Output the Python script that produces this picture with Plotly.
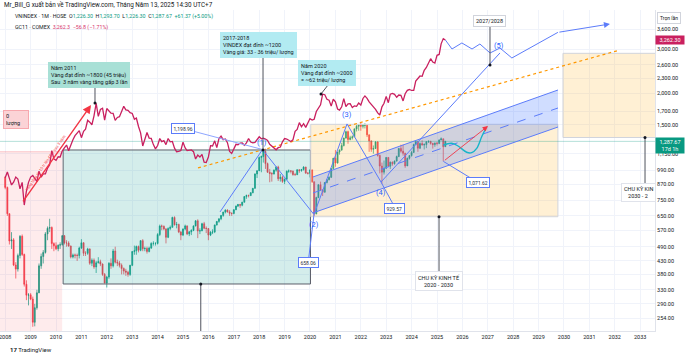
import math
import datetime as dt
import pandas as pd
import plotly.graph_objects as go

# ---------------- DATA ----------------
# VNINDEX monthly candles, Jan 2008 .. May 2025
vn_open = [
    927, 844, 663, 516, 522, 414, 399, 452, 539, 456, 347, 314,
    315, 303, 245, 280, 321, 411, 448, 465, 551, 580, 584, 504,
    494, 481, 497, 499, 542, 507, 507, 493, 446, 454, 453, 452,
    484, 508, 461, 461, 480, 421, 433, 407, 423, 427, 418, 380,
    351, 371, 421, 411, 471, 425, 422, 413, 401, 392, 388, 380,
    413, 469, 472, 491, 474, 518, 481, 482, 469, 484, 505, 505,
    505, 548, 592, 591, 577, 534, 579, 585, 641, 599, 601, 561,
    545, 576, 593, 551, 562, 569, 593, 621, 566, 567, 605, 580,
    579, 545, 560, 561, 598, 618, 633, 653, 673, 686, 674, 666,
    665, 688, 711, 722, 717, 737, 776, 784, 783, 804, 837, 955,
    984, 1110, 1121, 1174, 1050, 970, 960, 955, 989, 1017, 914, 926,
    892, 910, 980, 981, 980, 949, 949, 993, 985, 995, 1017, 963,
    961, 991, 889, 662, 769, 865, 824, 808, 883, 906, 926, 1004,
    1104, 1056, 1168, 1191, 1239, 1328, 1408, 1310, 1331, 1342, 1444, 1478,
    1498, 1478, 1490, 1492, 1367, 1293, 1197, 1206, 1280, 1132, 1027, 971,
    1007, 1111, 1026, 1064, 1049, 1075, 1120, 1207, 1177, 1154, 1028, 1102,
    1130, 1164, 1252, 1284, 1210, 1262, 1245, 1251, 1283, 1287, 1264, 1250,
    1267, 1264, 1305, 1318, 1226.3,
]
vn_high = [
    935, 850, 665, 560, 530, 425, 460, 545, 548, 460, 360, 320,
    320, 310, 290, 330, 420, 460, 475, 560, 590, 633, 590, 510,
    510, 500, 510, 545, 545, 520, 515, 495, 460, 460, 460, 490,
    525, 510, 470, 485, 482, 440, 440, 430, 445, 435, 420, 385,
    375, 425, 440, 480, 490, 435, 430, 420, 405, 400, 393, 415,
    470, 495, 495, 495, 520, 525, 490, 490, 490, 510, 515, 510,
    555, 600, 600, 595, 580, 585, 595, 645, 647, 615, 605, 565,
    580, 600, 595, 565, 575, 595, 625, 630, 580, 610, 615, 590,
    580, 565, 575, 600, 620, 635, 655, 675, 690, 690, 685, 670,
    690, 715, 725, 725, 740, 780, 790, 790, 808, 840, 960, 985,
    1120, 1130, 1180, 1204, 1060, 1000, 970, 995, 1025, 1030, 955, 940,
    915, 985, 995, 990, 985, 965, 995, 995, 1000, 1025, 1020, 970,
    995, 995, 890, 775, 870, 890, 830, 885, 910, 935, 1005, 1105,
    1190, 1170, 1195, 1270, 1330, 1420, 1420, 1355, 1360, 1450, 1500, 1500,
    1536, 1510, 1520, 1500, 1370, 1300, 1240, 1290, 1290, 1140, 1060, 1080,
    1115, 1115, 1070, 1070, 1080, 1130, 1210, 1250, 1250, 1160, 1110, 1135,
    1180, 1260, 1290, 1290, 1275, 1300, 1265, 1290, 1300, 1295, 1270, 1275,
    1280, 1310, 1335, 1320, 1293.7,
]
vn_low = [
    830, 650, 500, 480, 410, 366, 390, 440, 450, 340, 300, 286,
    300, 235, 236, 275, 320, 400, 420, 460, 520, 560, 480, 470,
    475, 470, 480, 495, 500, 490, 490, 440, 440, 440, 430, 440,
    480, 450, 450, 455, 415, 410, 400, 385, 420, 410, 375, 350,
    337, 365, 400, 405, 420, 410, 405, 380, 380, 375, 372, 375,
    410, 455, 455, 465, 470, 470, 470, 460, 465, 480, 495, 495,
    500, 540, 570, 570, 505, 530, 570, 585, 595, 580, 555, 520,
    540, 570, 545, 540, 545, 565, 590, 530, 550, 565, 575, 555,
    520, 540, 550, 555, 595, 610, 625, 645, 665, 670, 650, 650,
    660, 685, 705, 700, 710, 735, 760, 770, 780, 800, 835, 920,
    980, 970, 1060, 1000, 965, 885, 890, 950, 975, 895, 890, 880,
    870, 905, 965, 960, 940, 940, 945, 965, 975, 985, 955, 950,
    925, 880, 650, 660, 765, 820, 780, 805, 875, 900, 920, 1000,
    1020, 1050, 1140, 1180, 1230, 1320, 1260, 1300, 1310, 1340, 1410, 1420,
    1420, 1450, 1450, 1340, 1170, 1170, 1150, 1200, 1120, 960, 873, 950,
    1000, 1020, 1000, 1030, 1040, 1070, 1115, 1160, 1130, 1010, 1030, 1090,
    1120, 1160, 1240, 1170, 1200, 1240, 1195, 1210, 1270, 1250, 1205, 1225,
    1240, 1255, 1300, 1073, 1226.3,
]
vn_close = [
    844, 663, 516, 522, 414, 399, 452, 539, 456, 347, 314, 315,
    303, 245, 280, 321, 411, 448, 465, 551, 580, 584, 504, 494,
    481, 497, 499, 542, 507, 507, 493, 446, 454, 453, 452, 484,
    508, 461, 461, 480, 421, 433, 407, 423, 427, 418, 380, 351,
    371, 421, 411, 471, 425, 422, 413, 401, 392, 388, 380, 413,
    469, 472, 491, 474, 518, 481, 482, 469, 484, 505, 505, 505,
    548, 592, 591, 577, 534, 579, 585, 641, 599, 601, 561, 545,
    576, 593, 551, 562, 569, 593, 621, 566, 567, 605, 580, 579,
    545, 560, 561, 598, 618, 633, 653, 673, 686, 674, 666, 665,
    688, 711, 722, 717, 737, 776, 784, 783, 804, 837, 955, 984,
    1110, 1121, 1174, 1050, 970, 960, 955, 989, 1017, 914, 926, 892,
    910, 980, 981, 980, 949, 949, 993, 985, 995, 1017, 963, 961,
    991, 889, 662, 769, 865, 824, 808, 883, 906, 926, 1004, 1104,
    1056, 1168, 1191, 1239, 1328, 1408, 1310, 1331, 1342, 1444, 1478, 1498,
    1478, 1490, 1492, 1367, 1293, 1197, 1206, 1280, 1132, 1027, 971, 1007,
    1111, 1026, 1064, 1049, 1075, 1120, 1207, 1177, 1154, 1028, 1102, 1130,
    1164, 1252, 1284, 1210, 1262, 1245, 1251, 1283, 1287, 1264, 1250, 1267,
    1264, 1305, 1318, 1226, 1287.67,
]
vn_dates = pd.date_range("2008-01-01", periods=len(vn_close), freq="MS")

# GC1! (COMEX gold) monthly closes, Jan 2008 .. May 2025
gold_close = [
    923, 972, 917, 863, 886, 928, 912, 833, 884, 718, 816, 884,
    928, 942, 916, 891, 979, 927, 955, 955, 1008, 1040, 1182, 1096,
    1083, 1118, 1115, 1180, 1213, 1245, 1181, 1248, 1307, 1357, 1387, 1421,
    1332, 1411, 1439, 1563, 1536, 1500, 1628, 1825, 1620, 1725, 1746, 1566,
    1740, 1710, 1669, 1664, 1561, 1604, 1615, 1692, 1776, 1719, 1713, 1675,
    1663, 1578, 1595, 1476, 1392, 1234, 1313, 1396, 1327, 1323, 1250, 1202,
    1240, 1322, 1284, 1296, 1250, 1322, 1282, 1287, 1210, 1171, 1175, 1184,
    1279, 1212, 1183, 1184, 1191, 1172, 1095, 1135, 1115, 1142, 1065, 1061,
    1116, 1238, 1234, 1294, 1216, 1322, 1351, 1308, 1316, 1272, 1174, 1152,
    1211, 1253, 1249, 1268, 1269, 1242, 1270, 1322, 1280, 1271, 1275, 1303,
    1343, 1318, 1325, 1316, 1299, 1253, 1233, 1206, 1192, 1215, 1222, 1282,
    1321, 1316, 1298, 1286, 1306, 1413, 1437, 1529, 1472, 1514, 1464, 1520,
    1587, 1566, 1577, 1694, 1751, 1801, 1985, 1975, 1895, 1880, 1780, 1895,
    1850, 1733, 1716, 1768, 1906, 1771, 1817, 1818, 1757, 1784, 1776, 1829,
    1796, 1909, 1954, 1911, 1849, 1808, 1782, 1726, 1672, 1640, 1768, 1826,
    1945, 1836, 1986, 1999, 1982, 1929, 1970, 1966, 1866, 1994, 2057, 2072,
    2054, 2054, 2238, 2303, 2346, 2339, 2473, 2536, 2660, 2750, 2665, 2641,
    2835, 2858, 3150, 3305, 3262.3,
]
gold_dates = pd.date_range("2008-01-01", periods=len(gold_close), freq="MS")

year_ticks = list(range(2008, 2034))
price_ticks = [254, 290, 330, 380, 430, 490, 570, 650, 750, 870, 990, 1150,
               1500, 1700, 2000, 2300, 2600, 3000, 3600]
last_vn = 1287.67
last_gold = 3262.3

# Drawings (anchor points as decimal year / price)
pink_zone = [2007.5, 2010.24, 150, 1171]
teal_zone = [2010.28, 2020.02, 348, 1190]
cycle_zone_1 = [2020.03, 2029.76, 645, 1506]
cycle_zone_2 = [2029.96, 2034.5, 1334, 2888]
chan_t = [2020.118, 2029.764]
chan_upper = [929, 2063]
chan_lower = [668, 1469]
chan_mid = [802, 1749]
trend_t = [2015.59, 2032.2]
trend_p = [1009, 2977]
wave_t = [2016.457, 2018.13, 2020.157, 2021.457, 2022.795, 2027.48]
wave_p = [674, 1195, 658.06, 1511, 887, 2897]
proj_t = [2025.33, 2025.59, 2025.98, 2026.38, 2026.69, 2027.09, 2027.48, 2027.95, 2029.76]
proj_p = [3262.3, 3005, 3176, 3005, 3146, 2897, 3032, 2767, 3500]
proj_arrow = [2031.81, 3780]
curve_t = [2025.248, 2025.579, 2025.827, 2026.169, 2026.366, 2026.563, 2026.76, 2026.89]
curve_p = [1246, 1265, 1234, 1165, 1161, 1208, 1344, 1429]
red_fc = [[2025.25, 1071.62], [2027.01, 1483]]
red_arrow = [[2008.66, 732], [2011.38, 1797]]

# ---------------- HELPERS ----------------
def T(t):
    y = int(math.floor(t))
    a = dt.datetime(y, 1, 1)
    b = dt.datetime(y + 1, 1, 1)
    return (a + (b - a) * (t - y)).strftime("%Y-%m-%d %H:%M:%S")

L = math.log10
FONT = "Roboto"
INK = "#131722"
BLUE = "#5c7cfa"

fig = go.Figure()

def line(ts, ps, color, width=1.0, dash="solid", shape="linear", fill=None, fillcolor=None):
    fig.add_trace(go.Scatter(
        x=[T(t) for t in ts], y=ps, mode="lines",
        line=dict(color=color, width=width, dash=dash, shape=shape),
        fill=fill, fillcolor=fillcolor, hoverinfo="skip"))

def rect(z, fillcolor, linecolor, width=1.0):
    t0, t1, p0, p1 = z
    line([t0, t1, t1, t0, t0], [p0, p0, p1, p1, p0], linecolor, width,
         fill="toself", fillcolor=fillcolor)

def dots(ts, ps, color=INK, size=3):
    fig.add_trace(go.Scatter(x=[T(t) for t in ts], y=ps, mode="markers",
                             marker=dict(color=color, size=size), hoverinfo="skip"))

def label(t, p, text, **kw):
    kw.setdefault("font", dict(family=FONT, size=5.5, color=INK))
    fig.add_annotation(x=T(t), y=L(p), xref="x", yref="y", text=text,
                       showarrow=False, **kw)

def paper_text(xpx, ypx, text, size=5.5, color=INK, **kw):
    fig.add_annotation(x=xpx / 655.0, y=(331 - ypx) / 321.0, xref="paper", yref="paper",
                       text=text, showarrow=False,
                       font=dict(family=FONT, size=size, color=color), **kw)

def arrow(p_from, p_to, color, width=1.0):
    fig.add_annotation(x=T(p_to[0]), y=L(p_to[1]), ax=T(p_from[0]), ay=L(p_from[1]),
                       xref="x", yref="y", axref="x", ayref="y", text="",
                       showarrow=True, arrowhead=2, arrowsize=1.2, arrowwidth=width,
                       arrowcolor=color)

# ---------------- ZONES ----------------
rect(pink_zone, "rgba(242,54,69,0.10)", "rgba(242,54,69,0.0)")
line([pink_zone[0], pink_zone[1]], [pink_zone[3], pink_zone[3]], "rgba(242,54,69,0.25)")
rect(teal_zone, "rgba(38,166,154,0.20)", "#5d606b", 1.0)
rect(cycle_zone_1, "rgba(255,178,40,0.20)", "#d1d4dc", 1.0)
rect(cycle_zone_2, "rgba(255,178,40,0.20)", "#d1d4dc", 1.0)
# channel fill
line([chan_t[0], chan_t[1], chan_t[1], chan_t[0], chan_t[0]],
     [chan_upper[0], chan_upper[1], chan_lower[1], chan_lower[0], chan_upper[0]],
     "rgba(0,0,0,0)", 0, fill="toself", fillcolor="rgba(41,98,255,0.22)")

# ---------------- CANDLES ----------------
fig.add_trace(go.Candlestick(
    x=vn_dates, open=vn_open, high=vn_high, low=vn_low, close=vn_close,
    increasing=dict(line=dict(color="#089981", width=0.7), fillcolor="#089981"),
    decreasing=dict(line=dict(color="#f23645", width=0.7), fillcolor="#f23645"),
    whiskerwidth=0, hoverinfo="skip"))

# current price line
line([2007.0, 2034.5], [last_vn, last_vn], "rgba(8,153,129,0.30)", 1)

# trend + channel lines
line(trend_t, trend_p, "#ff9800", 1.2, dash="dot")
line(chan_t, chan_upper, BLUE, 1)
line(chan_t, chan_lower, BLUE, 1)
line(chan_t, chan_mid, BLUE, 1, dash="dash")

# gold line
fig.add_trace(go.Scatter(x=gold_dates, y=gold_close, mode="lines",
                         line=dict(color="#c9205f", width=1.3), hoverinfo="skip"))

# wave lines
line(wave_t, wave_p, BLUE, 1)
# connectors to price labels
line([2015.0, wave_t[1]], [1449, wave_p[1]], "#8ea6ff", 1)
line([wave_t[2], 2019.93], [wave_p[2], 424], BLUE, 1)
line([wave_t[4], 2023.35], [wave_p[4], 700], BLUE, 1)
line([red_fc[0][0], 2026.6], [red_fc[0][1], 885], BLUE, 1)
# gold projection zigzag
line(proj_t, proj_p, BLUE, 1)
arrow([proj_t[-1], proj_p[-1]], proj_arrow, BLUE, 1)
# teal forecast curve + red forecast arrow
line(curve_t, curve_p, "#17b5c9", 1.4, shape="spline")
arrow(red_fc[0], red_fc[1], "#f23645", 0.9)
# red arrow on gold 2008-2011
arrow(red_arrow[0], red_arrow[1], "#f23645", 1.4)

# pin lines
line([2011.535, 2011.535], [2121, 1831], "#50535e", 1)
line([2018.15, 2018.15], [2792, 1190], "#50535e", 1)
line([2020.71, 2020.433], [2160, 1988], "#50535e", 1)
line([2027.087, 2027.087], [3678, 2595], "#50535e", 1)
line([2025.079, 2025.079], [645, 388], "#50535e", 1)
line([2033.19, 2033.19], [1334, 871], "#50535e", 1)
line([2015.70, 2015.70], [348, 150], "#50535e", 1)
dots([2011.535, 2018.15, 2020.433, 2027.087, 2025.079, 2033.19, 2015.70],
     [1831, 1190, 1988, 2595, 645, 1334, 348])

# ---------------- TEXT ----------------
label(2009.685, 2367, "Năm 2011<br>Vàng đạt đỉnh ~1800 (45 triệu)<br>Sau  3 năm vàng tăng gấp 3 lần",
      xanchor="left", yanchor="middle", align="left", bgcolor="#a8e0d6",
      bordercolor="#a8e0d6", borderpad=2)
label(2016.457, 3118, "2017-2018<br>VINDEX đạt đỉnh ~1200<br>Vàng giá: 33 - 36 triệu/ lượng",
      xanchor="left", yanchor="middle", align="left", bgcolor="#b2ebf2",
      bordercolor="#b2ebf2", borderpad=2)
label(2019.528, 2412, "Năm 2020<br>Vàng đạt đỉnh ~2000<br>= ~62 triệu/ lượng",
      xanchor="left", yanchor="middle", align="left", bgcolor="#b2ebf2",
      bordercolor="#b2ebf2", borderpad=2)
label(2027.087, 3886, "2027/2028", xanchor="center", yanchor="middle",
      bgcolor="white", bordercolor="#d1d4dc", borderpad=2)
label(2025.079, 358, "CHU KỲ KINH TẾ<br>2020 - 2030", xanchor="center", yanchor="middle",
      align="center", bgcolor="white", bordercolor="#e0e3eb", borderpad=2)
label(2032.244, 809, "CHU KỲ KIN<br>&nbsp;&nbsp;&nbsp;2030 - 2", xanchor="left",
      yanchor="middle", align="left", bgcolor="white", bordercolor="#e0e3eb", borderpad=2)
label(2007.913, 1567, "0<br>lượng", xanchor="left", yanchor="middle", align="left",
      bgcolor="#fbd3d6", bordercolor="#f7a8ae", borderpad=2, width=20)

# price tags
for t, p, txt in [(2015.0, 1449, "1,198.96"), (2023.346, 696, "929.57"),
                  (2026.614, 883, "1,071.62"), (2019.96, 422, "658.06")]:
    label(t, p, txt, xanchor="center", yanchor="middle", bgcolor="white",
          bordercolor=BLUE, borderwidth=1, borderpad=1.5,
          font=dict(family=FONT, size=5, color="#2a2e39"))

# wave labels
for t, p, txt in [(2018.11, 1269, "(1)"), (2020.157, 603, "(2)"), (2021.457, 1651, "(3)"),
                  (2022.795, 807, "(4)"), (2027.44, 3089, "(5)")]:
    label(t, p, txt, xanchor="center", yanchor="middle",
          font=dict(family=FONT, size=7.5, color="#2962ff"))

# text along red arrow
label(2009.60, 1056, "Vàng tăng từ 15 tr lên 45 tr sau 3 năm", textangle=-55,
      font=dict(family=FONT, size=4, color="#f23645"))

# right-side badges
fig.add_annotation(x=1.0, y=L(last_gold), xref="paper", yref="y", text="3,262.30",
                   showarrow=False, xanchor="left", yanchor="middle", bgcolor="#c9205f",
                   borderpad=1, width=26, font=dict(family=FONT, size=5.5, color="white"))
fig.add_annotation(x=1.0, y=L(1240), xref="paper", yref="y", text="1,287.67<br>17d 1h",
                   showarrow=False, xanchor="left", yanchor="middle", bgcolor="#089981",
                   borderpad=1, width=26, font=dict(family=FONT, size=5.5, color="white"))
paper_text(657, 18, "Trọn lần", size=5, xanchor="left", yanchor="middle",
           bgcolor="white", bordercolor="#d1d4dc", borderpad=2)

# header / legend / footer
paper_text(2, 5, "Mr_Bill_G xuất bản về TradingView.com, Tháng Năm 13, 2025 14:30 UTC+7",
           size=6.3, xanchor="left", yanchor="middle")
G = "#089981"
paper_text(13, 16,
           "VNINDEX · 1M · HOSE  O<span style='color:%s'>1,226.30</span>  H<span style='color:%s'>1,293.70</span>"
           "  L<span style='color:%s'>1,226.30</span>  C<span style='color:%s'>1,287.67</span>"
           "  <span style='color:%s'>+61.37 (+5.00%%)</span>" % (G, G, G, G, G),
           size=5.3, xanchor="left", yanchor="middle")
paper_text(13, 27, "GC11 · COMEX  <span style='color:#d6336c'>3,262.3  −56.8 (−1.71%)</span>",
           size=5.3, xanchor="left", yanchor="middle")
paper_text(8, 349, "<b>17</b> TradingView", size=6, xanchor="left", yanchor="middle")

# ---------------- LAYOUT ----------------
fig.update_layout(
    width=690, height=359,
    margin=dict(l=0, r=35, t=10, b=28),
    paper_bgcolor="white", plot_bgcolor="white",
    showlegend=False,
    xaxis=dict(type="date", range=[T(2007.795), T(2033.583)],
               tickvals=["%d-01-01" % y for y in year_ticks],
               ticktext=[str(y) for y in year_ticks],
               showgrid=True, gridcolor="#f0f3fa", gridwidth=1, zeroline=False,
               showline=True, linecolor="#e0e3eb", ticks="", automargin=False,
               ticklabeloverflow="allow",
               tickfont=dict(family=FONT, size=5.5, color=INK),
               rangeslider=dict(visible=False), fixedrange=True),
    yaxis=dict(type="log", side="right", range=[2.3543, 3.6332],
               tickvals=price_ticks,
               ticktext=["{:,.2f}".format(v) for v in price_ticks],
               showgrid=True, gridcolor="#f0f3fa", gridwidth=1, zeroline=False,
               showline=True, linecolor="#e0e3eb", ticks="", automargin=False,
               tickfont=dict(family=FONT, size=5.5, color=INK), fixedrange=True),
)

fig.write_html("out.html", config={"displayModeBar": False},
               post_script="document.body.style.margin='0';document.body.style.overflow='hidden';")
